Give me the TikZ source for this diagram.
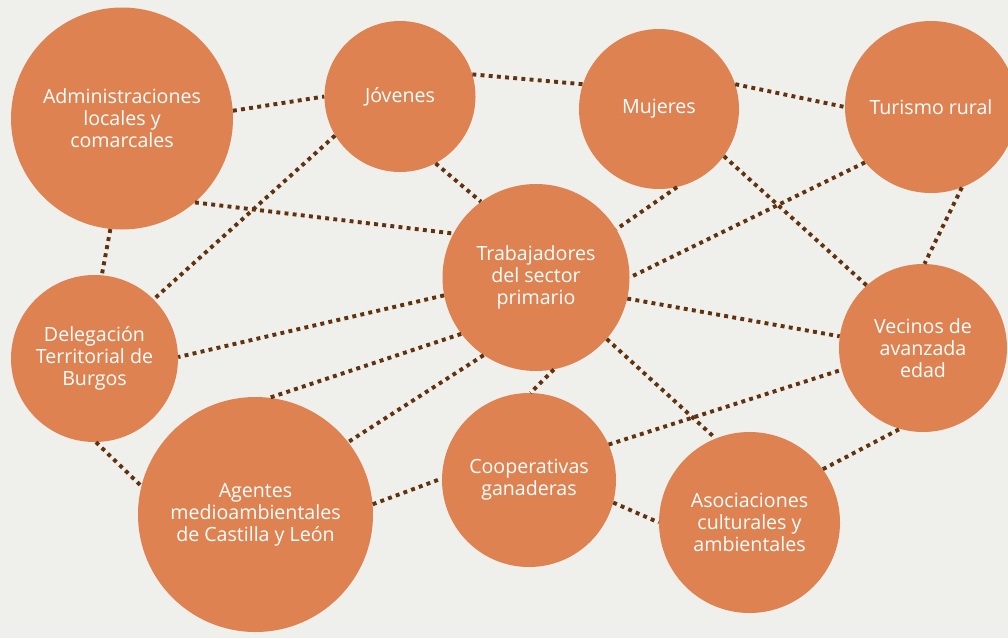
\documentclass[tikz,border=0pt]{standalone}
\usepackage{fontspec}
\setmainfont{Open Sans}
\definecolor{bgpaper}{RGB}{239,239,235}
\definecolor{circfill}{RGB}{223,130,82}
\definecolor{dotbrown}{RGB}{98,50,14}
\begin{document}
\begin{tikzpicture}[x=1pt,y=-1pt,
  bubble/.style={circle,fill=circfill,inner sep=0pt,text=white,align=center,
    font=\fontsize{19.6}{22}\selectfont},
  link/.style={draw=dotbrown,line width=3.9pt,dash pattern=on 3.9pt off 4.3pt}]
\useasboundingbox (0,0) rectangle (1008,638);
\clip (0,0) rectangle (1008,638);
\fill[bgpaper] (0,0) rectangle (1008,638);
% nodes
\node[bubble,minimum size=222pt] (admin) at (122,118.5) {Administraciones\\locales y\\comarcales};
\node[bubble,minimum size=151pt] (jov) at (400,96.5) {Jóvenes};
\node[bubble,minimum size=160pt] (muj) at (659,109) {Mujeres};
\node[bubble,minimum size=172pt] (tur) at (931,107) {Turismo rural};
\node[bubble,minimum size=187pt] (trab) at (536,277.5) {Trabajadores\\del sector\\primario};
\node[bubble,minimum size=167pt] (deleg) at (94.5,358.5) {Delegación\\Territorial de\\Burgos};
\node[bubble,minimum size=168pt] (vec) at (923,348) {Vecinos de\\avanzada\\edad};
\node[bubble,minimum size=235pt] (agen) at (255.5,514.5) {Agentes\\medioambientales\\de Castilla y León};
\node[bubble,minimum size=174pt] (coop) at (529,480) {Cooperativas\\ganaderas};
\node[bubble,minimum size=181pt] (asoc) at (749.5,522.5) {Asociaciones\\culturales y\\ambientales};
% connectors
\draw[link] (admin.4.9) -- (jov.180);
\draw[link] (jov.17.1) -- (muj.162.4);
\draw[link] (muj.18.2) -- (tur.180);
\draw[link] (admin.-49.6) -- (trab.152.6);
\draw[link] (admin.-96.6) -- (deleg.85);
\draw[link] (jov.-62.6) -- (trab.126.9);
\draw[link] (jov.-149.1) -- (deleg.45);
\draw[link] (muj.-77.5) -- (trab.31.4);
\draw[link] (muj.-36.6) -- (vec.132.7);
\draw[link] (tur.-140.1) -- (trab.0.9);
\draw[link] (tur.-69.7) -- (vec.89.3);
\draw[link] (trab.-169.3) -- (deleg.1);
\draw[link] (trab.-143.9) -- (agen.83);
\draw[link] (trab.-124.9) -- (agen.38.1);
\draw[link] (trab.-79.9) -- (coop.89.3);
\draw[link] (trab.-41.8) -- (asoc.112.2);
\draw[link] (trab.-13.2) -- (vec.172.4);
\draw[link] (coop.24.5) -- (vec.195.7);
\draw[link] (asoc.36.9) -- (vec.-106.2);
\draw[link] (deleg.-89.7) -- (agen.166.4);
\draw[link] (agen.5.6) -- (coop.179.3);
\draw[link] (coop.-15.5) -- (asoc.180);
\end{tikzpicture}
\end{document}
